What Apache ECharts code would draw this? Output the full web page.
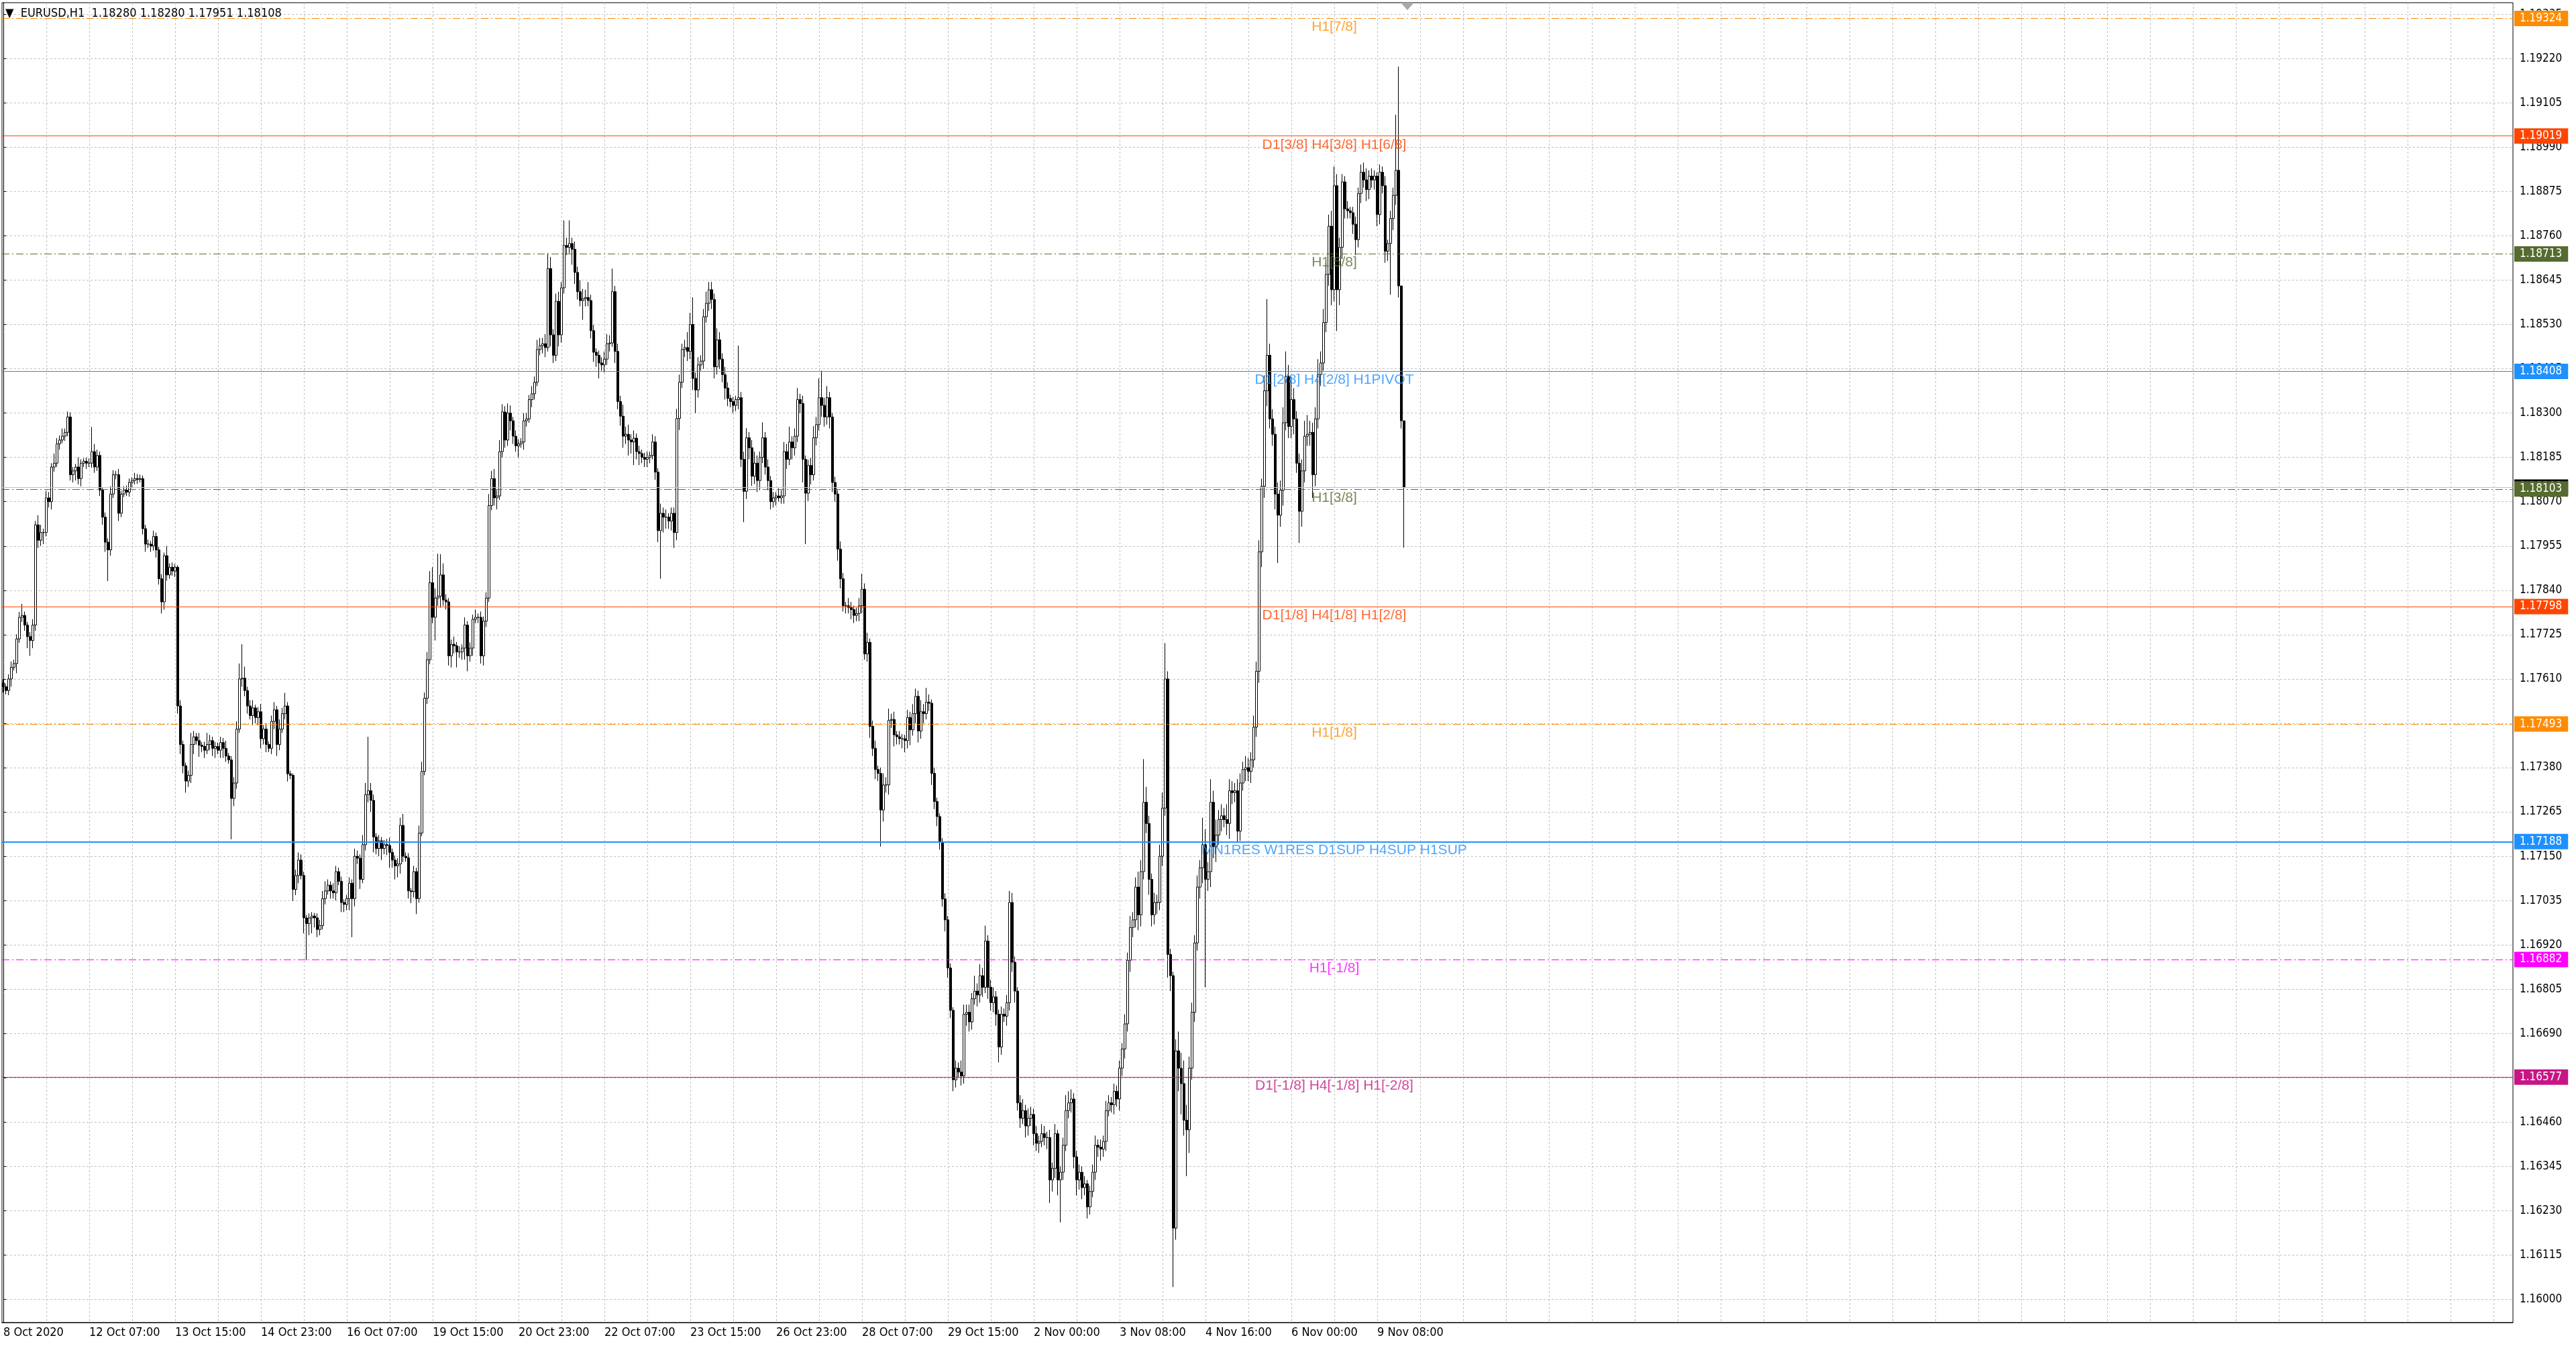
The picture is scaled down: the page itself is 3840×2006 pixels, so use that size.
<!DOCTYPE html>
<html><head><meta charset="utf-8">
<script src="https://cdn.jsdelivr.net/npm/echarts@6/dist/echarts.min.js"></script>
<style>html,body{margin:0;padding:0;background:#fff;}#c{width:3840px;height:2006px;}</style>
</head><body><div id="c"></div>
<script>
// ---------- DATA ----------
const symbolName = 'EURUSD,H1';
// prices coded in points: 17590 -> 1.17590
const firstOpen = 17600;
const closes = [
17590,17580,17610,17640,17650,17714,17770,17775,17750,17720,
17710,17750,18010,17970,17990,17990,18080,18070,18160,18170,
18220,18230,18240,18250,18290,18140,18150,18160,18130,18170,
18175,18170,18170,18200,18160,18190,18100,18030,17965,17945,
18090,18140,18140,18040,18090,18100,18095,18120,18125,18130,
18128,18130,18000,17960,17960,17955,17980,17945,17870,17810,
17930,17880,17900,17890,17900,17540,17440,17385,17345,17360,
17440,17460,17450,17438,17435,17425,17440,17450,17430,17435,
17425,17445,17430,17410,17400,17300,17340,17480,17610,17612,
17580,17540,17515,17535,17510,17525,17455,17480,17440,17430,
17500,17530,17440,17480,17520,17540,17364,17360,17064,17100,
17140,17100,16990,16975,16990,16995,16990,16960,16970,17040,
17060,17075,17060,17055,17110,17085,17030,17025,17040,17080,
17040,17150,17145,17090,17180,17310,17320,17295,17200,17170,
17190,17170,17180,17178,17160,17140,17125,17130,17230,17150,
17146,17060,17058,17110,17040,17210,17370,17560,17660,17860,
17770,17820,17825,17880,17815,17810,17670,17700,17696,17680,
17680,17690,17750,17670,17690,17765,17770,17770,17670,17760,
17820,18060,18130,18080,18085,18200,18303,18230,18300,18280,
18240,18215,18220,18225,18280,18285,18335,18350,18380,18465,
18475,18480,18470,18675,18503,18450,18590,18503,18625,18735,
18730,18740,18725,18665,18615,18592,18597,18600,18592,18514,
18458,18450,18430,18425,18440,18480,18482,18615,18460,18330,
18292,18240,18245,18230,18225,18235,18200,18195,18185,18180,
18185,18190,18225,18147,17995,18040,18030,18030,18020,18040,
17990,18286,18380,18465,18470,18460,18530,18390,18360,18425,
18435,18550,18585,18620,18595,18420,18490,18440,18400,18365,
18338,18330,18320,18335,18340,18180,18097,18236,18210,18136,
18170,18125,18185,18236,18160,18125,18070,18080,18085,18080,
18085,18200,18180,18225,18210,18240,18335,18325,18180,18092,
18164,18140,18236,18270,18340,18320,18290,18340,18290,18120,
18090,17947,17870,17800,17800,17795,17790,17775,17780,17800,
17843,17675,17705,17487,17430,17375,17365,17270,17335,17335,
17503,17505,17465,17460,17455,17455,17450,17510,17478,17520,
17565,17475,17525,17520,17550,17547,17365,17292,17253,17187,
17039,16985,16860,16750,16570,16600,16590,16580,16740,16745,
16720,16780,16800,16790,16840,16810,16930,16810,16770,16785,
16740,16655,16740,16735,16770,17030,16875,16800,16510,16470,
16490,16450,16470,16480,16430,16405,16410,16430,16420,16420,
16310,16340,16430,16310,16330,16400,16490,16510,16520,16370,
16310,16330,16290,16300,16240,16280,16330,16400,16395,16390,
16410,16490,16510,16505,16540,16520,16600,16650,16715,16880,
16965,16985,17070,16998,17110,17290,17235,17090,16998,17030,
17030,17150,17275,17610,16895,16840,16185,16645,16600,16560,
16465,16440,16600,16745,16925,17070,17120,17180,17090,17110,
17290,17175,17205,17245,17255,17245,17235,17320,17315,17320,
17215,17340,17375,17380,17370,17400,17485,17630,17940,18110,
18358,18450,18285,18245,18090,18035,18100,18275,18395,18265,
18335,18285,18170,18045,18150,18240,18245,18250,18140,18285,
18400,18430,18535,18660,18785,18620,18890,18620,18730,18900,
18830,18825,18820,18790,18750,18870,18925,18905,18880,18915,
18905,18915,18815,18925,18890,18720,18740,18805,18865,18930,
18630,18280,18108
];
const upperWicks = [
10,8,12,15,10,12,14,30,10,8,
12,15,10,25,20,10,18,15,10,25,
15,12,20,10,14,12,10,8,25,10,
8,10,12,64,20,15,10,8,12,10,
20,12,10,15,8,10,12,10,8,15,
12,10,8,10,12,8,15,10,8,12,
8,25,10,12,8,5,15,10,8,12,
30,15,10,20,8,12,30,15,10,12,
10,15,12,20,8,10,15,20,40,88,
30,10,15,20,8,12,20,10,15,8,
15,20,10,25,15,34,10,8,5,15,
20,15,10,8,12,10,8,12,15,20,
25,15,10,20,15,10,12,8,10,15,
10,20,15,10,25,30,140,20,15,10,
15,10,12,15,20,10,12,15,20,30,
10,12,8,15,10,20,25,15,20,30,
40,25,110,54,30,15,10,12,20,10,
15,10,20,10,15,12,20,10,15,12,
15,30,20,25,15,30,20,15,25,20,
10,15,12,10,20,15,12,20,15,25,
20,15,25,40,30,15,20,25,15,65,
20,60,15,20,15,30,25,20,40,15,
15,10,12,15,20,25,20,60,15,20,
15,30,20,25,15,20,12,15,10,12,
15,10,20,15,10,25,15,20,10,15,
15,25,20,15,20,40,30,70,15,20,
15,20,30,20,20,15,30,20,15,20,
15,10,12,10,135,15,20,25,15,20,
30,20,15,40,15,20,12,15,10,20,
15,25,20,40,15,20,30,15,20,10,
15,20,30,20,50,70,20,30,15,10,
15,10,20,15,10,20,15,10,15,20,
40,15,25,10,15,20,10,15,30,20,
30,15,20,10,15,12,10,20,15,25,
20,15,30,20,37,20,10,15,10,8,
10,15,10,12,8,20,15,30,25,20,
20,15,40,20,30,20,40,15,20,25,
15,12,20,15,20,30,25,15,10,20,
30,15,25,20,15,20,15,25,20,15,
20,15,25,10,15,20,40,30,25,15,
15,20,15,20,10,15,20,25,15,20,
15,25,20,15,20,15,20,15,25,20,
30,20,25,40,30,112,40,20,15,25,
20,30,40,93,20,15,10,30,50,40,
60,40,30,25,20,30,20,70,40,25,
60,30,40,25,30,20,40,30,25,20,
30,25,20,30,25,20,30,25,30,20,
40,146,30,25,20,30,25,40,65,30,
60,30,20,25,30,40,50,30,25,30,
40,30,35,30,30,40,50,30,25,20,
15,20,10,15,20,15,20,25,30,15,
20,15,10,20,15,25,10,20,20,144,
269,0,0
];
const lowerWicks = [
15,10,12,20,8,25,10,12,15,30,
40,20,15,20,15,30,10,15,20,12,
10,15,8,12,10,15,20,25,15,20,
10,15,10,12,15,10,15,20,25,81,
15,10,12,20,10,8,10,12,15,10,
12,8,15,20,10,15,12,20,15,30,
20,15,10,12,15,20,25,20,30,15,
20,25,10,30,15,20,10,15,20,25,
10,20,25,15,10,106,20,15,10,20,
15,20,10,25,15,20,25,15,20,10,
15,20,30,15,10,15,20,10,30,15,
20,10,40,95,30,40,25,20,15,10,
15,10,20,15,20,10,25,20,15,30,
100,20,15,25,10,15,20,30,40,15,
20,30,15,25,40,20,35,30,25,15,
10,20,30,15,40,10,8,10,15,12,
15,60,20,30,15,20,25,30,20,40,
15,20,30,40,15,20,10,15,20,25,
15,10,12,20,30,10,15,20,15,25,
20,15,30,10,20,15,10,20,15,10,
15,20,25,10,30,20,15,30,20,15,
20,15,40,30,20,15,50,20,15,20,
25,30,40,15,20,15,20,10,30,20,
25,30,20,40,30,60,20,30,15,20,
20,15,10,20,30,125,40,30,20,25,
40,20,30,15,20,25,20,30,60,20,
15,20,15,20,25,30,20,25,20,30,
20,15,20,15,25,20,80,20,30,25,
20,30,25,15,20,25,20,15,20,10,
15,20,25,15,30,20,15,25,60,132,
20,25,15,20,15,30,25,20,30,25,
20,30,25,15,20,15,25,20,15,20,
20,15,20,30,20,25,20,95,30,20,
25,20,30,20,15,25,30,20,40,15,
25,30,20,25,15,20,30,20,25,20,
20,30,25,20,30,20,15,25,20,30,
25,20,15,30,20,25,15,30,20,25,
30,40,20,15,25,20,25,30,20,25,
15,30,25,20,30,20,25,15,20,30,
60,30,25,40,110,20,15,20,25,30,
40,25,30,20,30,20,15,20,25,30,
20,25,15,20,25,20,30,20,25,20,
30,25,20,40,30,20,25,40,30,25,
30,20,25,20,60,40,153,30,60,80,
40,120,60,30,25,20,30,40,280,30,
40,30,40,25,30,20,30,40,30,25,
30,25,20,30,25,30,20,25,30,40,
30,40,25,30,40,124,30,40,20,30,
30,40,25,82,40,30,25,30,60,30,
25,30,20,25,30,40,30,107,40,30,
25,20,15,25,40,20,25,20,30,25,
20,25,30,25,20,30,25,133,30,25,
30,20,157
];
const xTickLabels = ['8 Oct 2020','12 Oct 07:00','13 Oct 15:00','14 Oct 23:00','16 Oct 07:00','19 Oct 15:00','20 Oct 23:00','22 Oct 07:00','23 Oct 15:00','26 Oct 23:00','28 Oct 07:00','29 Oct 15:00','2 Nov 00:00','3 Nov 08:00','4 Nov 16:00','6 Nov 00:00','9 Nov 08:00'];
const barsPerLabel = 32;
const barsPerGrid = 16;
const priceTicks = [1.16000,1.16115,1.16230,1.16345,1.16460,1.16575,1.16690,1.16805,1.16920,1.17035,1.17150,1.17265,1.17380,1.17495,1.17610,1.17725,1.17840,1.17955,1.18070,1.18185,1.18300,1.18415,1.18530,1.18645,1.18760,1.18875,1.18990,1.19105,1.19220,1.19335];
const levelPrices = [1.19324,1.19019,1.18713,1.18408,1.18103,1.17798,1.17493,1.17188,1.16882,1.16577];
const levelNames = ['H1[7/8]','D1[3/8] H4[3/8] H1[6/8]','H1[5/8]','D1[2/8] H4[2/8] H1PIVOT','H1[3/8]','D1[1/8] H4[1/8] H1[2/8]','H1[1/8]','MN1RES W1RES D1SUP H4SUP H1SUP','H1[-1/8]','D1[-1/8] H4[-1/8] H1[-2/8]'];
const labelBar = 496;

// ---------- STYLE ----------
const DD = [11,4,2,4];
const levelColors = ['#FF8C00','#FF4500','#556B2F','#1E90FF','#556B2F','#FF4500','#FF8C00','#1E90FF','#FF00FF','#C71585'];
const levelTypes = [DD,'solid',DD,'solid',DD,'solid',DD,'solid',DD,'solid'];
const levelWidths = [1,1,1,1,1,1,1,2,1,1];
const AX_FONT = '"DejaVu Sans Condensed","DejaVu Sans",sans-serif';
const LVL_FONT = '"Liberation Sans",Arial,sans-serif';

// ---------- BUILD ----------
const toPrice = v => +(1 + v / 100000).toFixed(5);
const candles = closes.map((c, i) => {
  const o = i === 0 ? firstOpen : closes[i - 1];
  const h = Math.max(o, c) + upperWicks[i];
  const l = Math.min(o, c) - lowerWicks[i];
  return [i, toPrice(o), toPrice(c), toPrice(l), toPrice(h)];
});
const last = candles[candles.length - 1];
const header = '\u25BC  ' + symbolName + '  ' + [last[1], last[4], last[3], last[2]].map(v => v.toFixed(5)).join(' ');
const bid = last[2];

const xLabelBars = xTickLabels.map((_, k) => k * barsPerLabel);
const xMin = -0.5, xMax = 935.25;
const gridBars = [];
for (let b = 0; b <= xMax; b += barsPerGrid) gridBars.push(b);

const tagLabel = (txt, bg) => ({
  show: true, position: 'end', distance: 2, formatter: txt,
  backgroundColor: bg, color: '#fff', fontFamily: AX_FONT, fontSize: 17,
  lineHeight: 17, padding: [3, 9, 3, 8]
});
const markData = [{
  yAxis: bid, lineStyle: { color: '#C0C0C0', type: 'solid', width: 1 },
  label: tagLabel(bid.toFixed(5), '#000')
}];
levelPrices.forEach((p, i) => {
  markData.push({
    yAxis: p,
    lineStyle: { color: levelColors[i], type: levelTypes[i], width: levelWidths[i] },
    label: tagLabel(p.toFixed(5), levelColors[i])
  });
});

const chart = echarts.init(document.getElementById('c'), null, { renderer: 'canvas' });
chart.setOption({
  animation: false,
  backgroundColor: '#fff',
  title: {
    text: header, left: 8, top: 11, padding: 0,
    textStyle: { fontSize: 18, fontWeight: 'normal', fontFamily: AX_FONT, color: '#000' }
  },
  grid: { left: 3, right: 94, top: 4, bottom: 35, show: true, borderColor: '#000', borderWidth: 1, backgroundColor: '#fff' },
  xAxis: {
    type: 'value', min: xMin, max: xMax,
    axisLine: { show: true, lineStyle: { color: '#000', width: 1 } },
    axisTick: { show: false, customValues: gridBars },
    axisLabel: {
      customValues: xLabelBars, align: 'left', margin: 6,
      formatter: v => xTickLabels[Math.round(v / barsPerLabel)] || '',
      color: '#000', fontFamily: AX_FONT, fontSize: 18
    },
    splitLine: { show: true, customValues: gridBars, lineStyle: { color: '#C0C0C0', type: [3, 3], width: 1 } }
  },
  yAxis: {
    type: 'value', position: 'right', min: 1.15940, max: 1.19365, scale: true,
    axisLine: { show: true, lineStyle: { color: '#000', width: 1 } },
    axisTick: { show: true, length: 4, customValues: priceTicks, lineStyle: { color: '#000' } },
    axisLabel: {
      customValues: priceTicks, margin: 10, formatter: v => v.toFixed(5),
      color: '#000', fontFamily: AX_FONT, fontSize: 17
    },
    splitLine: { show: true, customValues: priceTicks, lineStyle: { color: '#C0C0C0', type: [3, 3], width: 1 } }
  },
  series: [{
    type: 'candlestick',
    dimensions: ['t', 'open', 'close', 'low', 'high'],
    encode: { x: 0, y: [1, 2, 3, 4] },
    data: candles,
    barWidth: 3,
    itemStyle: { color: '#fff', color0: '#000', borderColor: '#000', borderColor0: '#000', borderColorDoji: '#000', borderWidth: 1 },
    z: 3
  }, {
    type: 'scatter',
    data: levelPrices.map((p, i) => ({
      value: [labelBar, p],
      label: { color: levelColors[i], formatter: levelNames[i] }
    })),
    symbolSize: 1,
    itemStyle: { color: 'rgba(0,0,0,0)' },
    label: { show: true, position: 'bottom', distance: 2, fontFamily: LVL_FONT, fontSize: 21 },
    markLine: { symbol: ['none', 'none'], silent: true, animation: false, precision: 5, data: markData },
    silent: true, z: 5
  }]
});
const tx = chart.convertToPixel({ xAxisIndex: 0 }, candles.length + 0.25);
chart.setOption({
  graphic: [{
    type: 'polygon', shape: { points: [[tx - 10, 4], [tx + 10, 4], [tx, 15]] },
    style: { fill: '#A8A8A8' }, z: 10
  }]
});
</script></body></html>
